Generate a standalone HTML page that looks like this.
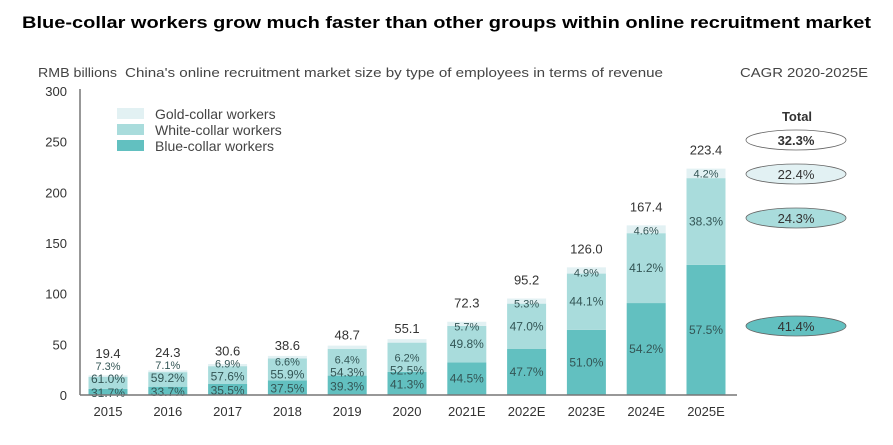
<!DOCTYPE html>
<html><head><meta charset="utf-8"><style>
body{margin:0;background:#fff;width:893px;height:440px;overflow:hidden;font-family:"Liberation Sans",sans-serif}
</style></head><body>
<svg id="c" width="893" height="440" xmlns="http://www.w3.org/2000/svg">
<text x="22" y="28" textLength="849" lengthAdjust="spacingAndGlyphs" font-size="17" font-weight="bold" fill="#000">Blue-collar workers grow much faster than other groups within online recruitment market</text>
<text x="38" y="77" textLength="79" lengthAdjust="spacingAndGlyphs" font-size="13" fill="#444">RMB billions</text>
<text x="125" y="77" textLength="538" lengthAdjust="spacingAndGlyphs" font-size="13" fill="#444">China's online recruitment market size by type of employees in terms of revenue</text>
<text x="740" y="77" textLength="128" lengthAdjust="spacingAndGlyphs" font-size="13" fill="#444">CAGR 2020-2025E</text>
<text x="797" y="121" text-anchor="middle" font-size="13" font-weight="bold" fill="#333">Total</text>
<g id="legend">
<rect x="117" y="108" width="27" height="11" fill="#e2f1f3"/>
<text x="155" y="119" font-size="14" fill="#444">Gold-collar workers</text>
<rect x="117" y="124" width="27" height="11" fill="#a9dcdc"/>
<text x="155" y="135" font-size="14" fill="#444">White-collar workers</text>
<rect x="117" y="140" width="27" height="11" fill="#62c0c0"/>
<text x="155" y="151" font-size="14" fill="#444">Blue-collar workers</text>
</g>
<g id="plot"></g>
</svg>
<script>
const categories=["2015","2016","2017","2018","2019","2020","2021E","2022E","2023E","2024E","2025E"];
const totals=[19.4,24.3,30.6,38.6,48.7,55.1,72.3,95.2,126.0,167.4,223.4];
const bluePct=[31.7,33.7,35.5,37.5,39.3,41.3,44.5,47.7,51.0,54.2,57.5];
const whitePct=[61.0,59.2,57.6,55.9,54.3,52.5,49.8,47.0,44.1,41.2,38.3];
const goldPct=[7.3,7.1,6.9,6.6,6.4,6.2,5.7,5.3,4.9,4.6,4.2];
const yTicks=[0,50,100,150,200,250,300];
const cagrLabels=["32.3%","22.4%","24.3%","41.4%"];
const cagrY=[140,174,218,326];
const cagrFill=["#ffffff","#e2f1f3","#a9dcdc","#62c0c0"];
const NS="http://www.w3.org/2000/svg";
const g=document.getElementById('plot');
const y0=395, pxPer=304/300;
const y=v=>y0-v*pxPer;
const x=i=>108+i*59.8;
const bw=39;
function mk(t,a,txt){const e=document.createElementNS(NS,t);for(const k in a)e.setAttribute(k,a[k]);if(txt!=null)e.textContent=txt;g.appendChild(e);return e;}
yTicks.forEach(t=>{
 const e=mk('text',{x:67,y:y(t)+5,'text-anchor':'end','font-size':13,fill:'#333'},t);
 
 
});
let ax=mk('line',{x1:80,y1:y(300)-2,x2:80,y2:y0,stroke:'#777','stroke-width':1.5});


categories.forEach((c,i)=>{
 const T=totals[i],b=T*bluePct[i]/100,w=T*whitePct[i]/100,gd=T*goldPct[i]/100;
 const cx=x(i),lx=cx-bw/2;
 let r=mk('rect',{x:lx,y:y(b),width:bw,height:b*pxPer,fill:'#62c0c0'});
 
 
 r=mk('rect',{x:lx,y:y(b+w),width:bw,height:w*pxPer,fill:'#a9dcdc'});
 
 
 r=mk('rect',{x:lx,y:y(T),width:bw,height:gd*pxPer,fill:'#e2f1f3'});
 
 
 const small=T<60;
 let blY=y(b/2)+4, whY=y(b+w/2)+4, gY=y(T)+9;
 if(small){blY=Math.min(y(b/2)+5,y0+4);whY=blY-14;gY=whY-13;}
 let tY=small? Math.min(y(T)-6,gY-12): y(T)-14;
 let t=mk('text',{x:cx,y:blY,'text-anchor':'middle','font-size':12,fill:'#355'},bluePct[i].toFixed(1)+'%');
 
 
 t=mk('text',{x:cx,y:whY,'text-anchor':'middle','font-size':12,fill:'#355'},whitePct[i].toFixed(1)+'%');
 
 
 t=mk('text',{x:cx,y:gY,'text-anchor':'middle','font-size':11,fill:'#355'},goldPct[i].toFixed(1)+'%');
 
 
 t=mk('text',{x:cx,y:tY,'text-anchor':'middle','font-size':13,fill:'#333'},T.toFixed(1));
 
 
 t=mk('text',{x:cx,y:416,'text-anchor':'middle','font-size':13,fill:'#333'},c);
 
 
});
ax=mk('line',{x1:80,y1:y0,x2:737,y2:y0,stroke:'#777','stroke-width':1.5});


cagrLabels.forEach((l,i)=>{
 const e=mk('ellipse',{cx:796,cy:cagrY[i],rx:50,ry:10,fill:cagrFill[i],stroke:'#666','stroke-width':0.8});
 
 
 const t=mk('text',{x:796,y:cagrY[i]+5,'text-anchor':'middle','font-size':13,fill:'#333','font-weight':i==0?'bold':'normal'},l);
 
 
});
</script>
</body></html>
